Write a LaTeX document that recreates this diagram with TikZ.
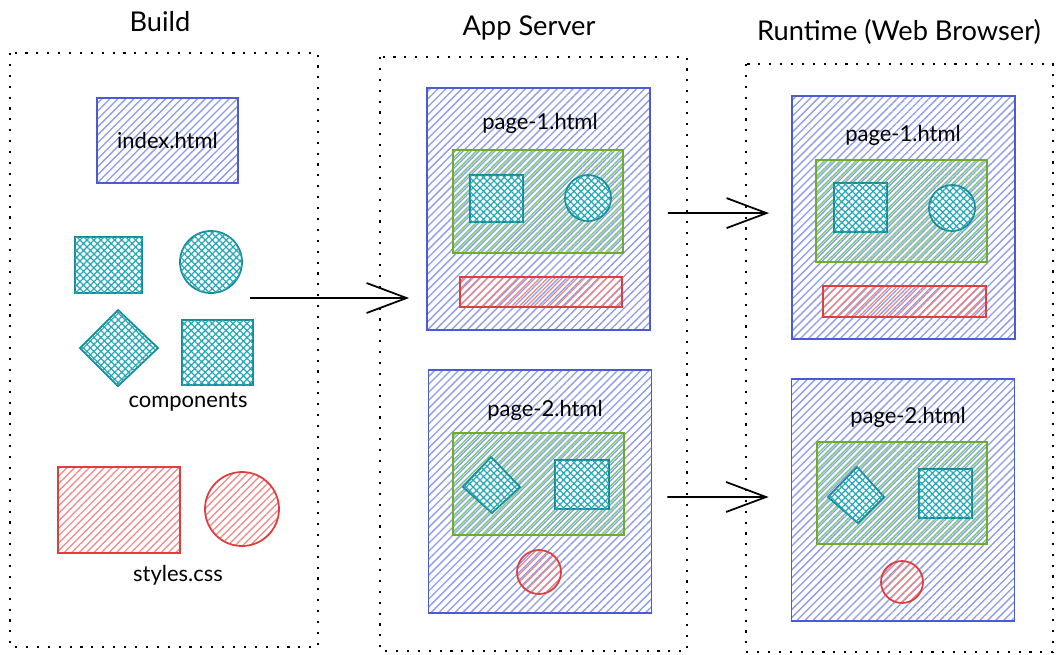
\documentclass[tikz,border=0pt]{standalone}
\usepackage{fontspec}
\setmainfont{Lato}
\usetikzlibrary{calc,arrows.meta,patterns.meta}

\definecolor{bluec}{HTML}{4A5BD3}
\definecolor{blueh}{HTML}{8E9BE8}
\definecolor{tealc}{HTML}{138A96}
\definecolor{tealh}{HTML}{27A8B6}
\definecolor{greenc}{HTML}{6FAE24}
\definecolor{greenh}{HTML}{7CCB8A}
\definecolor{redc}{HTML}{E03E3E}
\definecolor{redh}{HTML}{EE8585}

\begin{document}
\begin{tikzpicture}[x=0.02cm, y=-0.02cm,
    frame/.style={line width=1.3pt, dash pattern=on 1.2pt off 5pt},
    title/.style={font=\fontsize{15.5}{18}\selectfont},
    lbl/.style={font=\fontsize{12.5}{15}\selectfont},
    page/.style={draw=bluec, line width=1.1pt, inner sep=0pt,
        minimum width=4.46cm, minimum height=4.85cm,
        pattern={Lines[angle=45,distance=3.2pt,line width=0.75pt]}, pattern color=blueh},
    greenbox/.style={draw=greenc, line width=1.1pt,
        pattern={Lines[angle=45,distance=3.2pt,yshift=1.6pt,line width=0.9pt]}, pattern color=greenh},
    tealshape/.style={draw=tealc, line width=1pt, fill=white,
        postaction={pattern={Hatch[angle=45,distance=2.8pt,line width=0.7pt]}, pattern color=tealh}},
    redshape/.style={draw=redc, line width=1pt,
        pattern={Lines[angle=45,distance=3pt,line width=0.7pt]}, pattern color=redh},
    arrow/.style={line width=1pt, -{Straight Barb[length=0.8cm,width=0.6cm,line width=1pt]}}]

    \useasboundingbox (0,0) rectangle (1058,654);

    % Dotted frames of the three stages
    \draw[frame] (10,53) rectangle (318,647);
    \draw[frame] (380,57) rectangle (687,651);
    \draw[frame] (746,64) rectangle (1053,652);

    % Stage titles
    \node[title] (buildt) at (160,22) {Build};
    \node[title] (appt) at (529,28) {App Server};
    \node[title] (rtt) at (899,32) {Runtime (Web Browser)};

    % Build: index.html
    \node[page, lbl, minimum width=2.82cm, minimum height=1.7cm] (idx) at (167.5,140.5) {index.html};

    % Build: components
    \draw[tealshape] (75,237) rectangle (142,293);
    \draw[tealshape] (211,262) circle (31);
    \draw[tealshape] (118,310) -- (158,348) -- (118,386) -- (80,348) -- cycle;
    \draw[tealshape] (182,320) rectangle (253,385);
    \node[lbl] (comp) at (188,402) {components};

    % Build: styles.css
    \draw[redshape] (58,467) rectangle (180,553);
    \draw[redshape] (242,509) circle (37);
    \node[lbl] (css) at (178,575) {styles.css};

    % App server pages
    \node[page] (app1) at (538.5,209) {};
    \node[lbl] (app1t) at (540,123) {page-1.html};
    \draw[greenbox] (453,150) rectangle (623,253);
    \draw[tealshape] (470,175) rectangle (523,222);
    \draw[tealshape] (588,198) circle (23);
    \draw[redshape] (460,277) rectangle (622,307);

    \node[page] (app2) at (540,491.5) {};
    \node[lbl] (app2t) at (545,410) {page-2.html};
    \draw[greenbox] (453,433) rectangle (624,535);
    \draw[tealshape] (491,457) -- (520,487) -- (492,513) -- (463,487) -- cycle;
    \draw[tealshape] (555,460) rectangle (609,509);
    \draw[redshape] (539,572) circle (22);

    % Runtime pages
    \node[page] (rt1) at (903.5,217.5) {};
    \node[lbl] (rt1t) at (903,135) {page-1.html};
    \draw[greenbox] (816,160) rectangle (987,262);
    \draw[tealshape] (834,183) rectangle (887,232);
    \draw[tealshape] (952,208) circle (23);
    \draw[redshape] (823,286) rectangle (986,317);

    \node[page] (rt2) at (903,500) {};
    \node[lbl] (rt2t) at (908,417) {page-2.html};
    \draw[greenbox] (817,442) rectangle (987,544);
    \draw[tealshape] (857,467) -- (884,497) -- (858,523) -- (828,497) -- cycle;
    \draw[tealshape] (919,469) rectangle (972,518);
    \draw[redshape] (902,582) circle (21);

    % Arrows between stages
    \coordinate (buildout) at (250,298);
    \draw[arrow, shorten >=0.34cm] (buildout) -- (buildout -| app1.west);
    \draw[arrow, shorten <=0.34cm, shorten >=0.44cm] ([yshift=-2.3pt]app1.east) -- ([yshift=2.5pt]rt1.west);
    \draw[arrow, shorten <=0.3cm, shorten >=0.44cm] ([yshift=-3.1pt]app2.east) -- ([yshift=1.7pt]rt2.west);

\end{tikzpicture}
\end{document}
